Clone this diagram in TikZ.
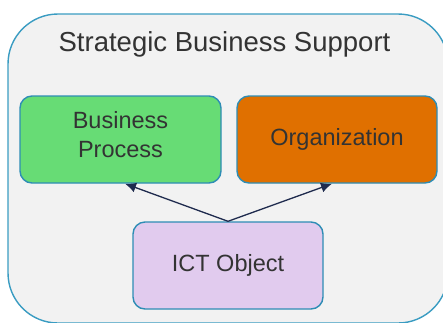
\documentclass[tikz,border=0pt]{standalone}
\usepackage{fontspec}
\setmainfont{Liberation Sans}
\usetikzlibrary{arrows.meta}
\definecolor{outerfill}{HTML}{F2F2F2}
\definecolor{outerline}{HTML}{3A9CC2}
\definecolor{boxline}{HTML}{2E8DB5}
\definecolor{bpgreen}{HTML}{67DC75}
\definecolor{orgorange}{HTML}{E07000}
\definecolor{ictlilac}{HTML}{E1CBEE}
\definecolor{arrowc}{HTML}{1F2B4E}
\definecolor{txt}{HTML}{333333}
\tikzset{
  box/.style={draw=boxline, line width=1.4pt, rounded corners=12pt, inner sep=0pt,
    minimum height=87pt, text=txt, align=center,
    font=\fontsize{23.5}{29}\selectfont},
  arr/.style={draw=arrowc, line width=1.3pt, -{Latex[length=11pt,width=10pt]}}
}
\begin{document}
\begin{tikzpicture}[x=1pt,y=-1pt]
\useasboundingbox (0,0) rectangle (443,322);
\draw[fill=outerfill, draw=outerline, line width=1.4pt, rounded corners=50pt] (8,14) rectangle (448,323);
\node[text=txt, font=\fontsize{27.5}{32}\selectfont] (title) at (224.5,44) {Strategic Business Support};
\node[box, fill=bpgreen, minimum width=201pt] (bp) at (120.5,139.5) {};
\node[text=txt, align=center, font=\fontsize{23.5}{29}\selectfont, inner sep=0pt] (bptext) at (120.5,135) {Business\\Process};
\node[box, fill=orgorange, minimum width=200pt] (org) at (337,139.5) {Organization};
\node[box, fill=ictlilac, minimum width=190pt] (ict) at (228,265.5) {ICT Object};
\draw[arr] (ict.north) -- ([xshift=4.5pt]bp.south);
\draw[arr] (ict.north) -- ([xshift=-5pt]org.south);
\end{tikzpicture}
\end{document}
